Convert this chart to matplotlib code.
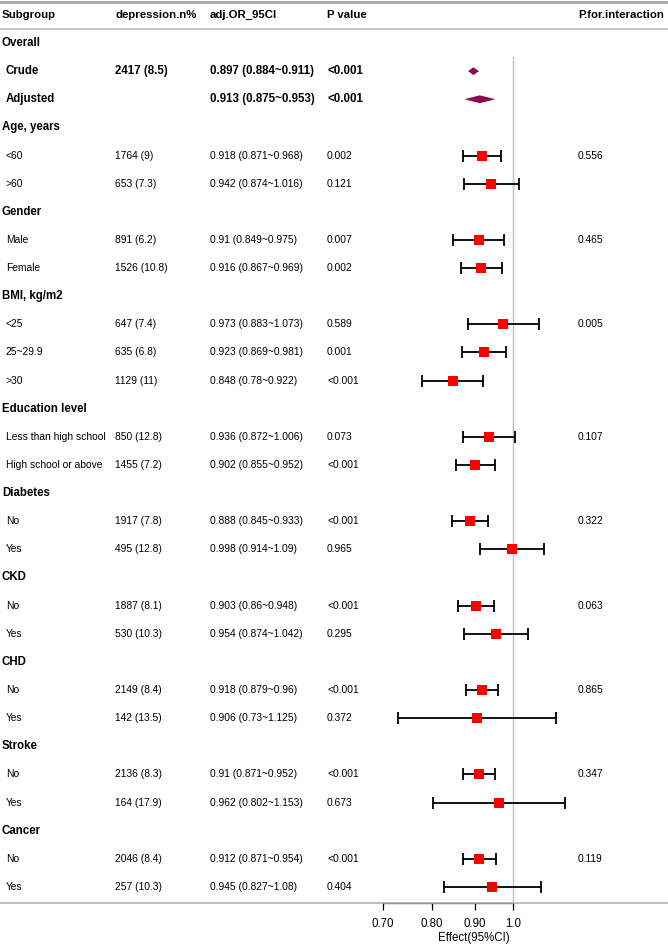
"""
亚组分析森林图 (depression vs adj.OR)
"""

import numpy as np
import matplotlib
matplotlib.use("Agg")
import matplotlib.pyplot as plt
from matplotlib import transforms
from matplotlib.patches import Polygon
from matplotlib.lines import Line2D
from matplotlib.ticker import NullLocator

plt.rcParams['font.family'] = ['Liberation Sans', 'DejaVu Sans']

# 数据
columns = ["Subgroup", "depression.n%", "adj.OR_95CI", "P value", "P.for.interaction"]
group_headers = ["Overall", "Age, years", "Gender", "BMI, kg/m2", "Education level",
                 "Diabetes", "CKD", "CHD", "Stroke", "Cancer"]
summary_rows = ["Crude", "Adjusted"]

labels = ["Overall", "Crude", "Adjusted",
          "Age, years", "<60", ">60",
          "Gender", "Male", "Female",
          "BMI, kg/m2", "<25", "25~29.9", ">30",
          "Education level", "Less than high school", "High school or above",
          "Diabetes", "No", "Yes",
          "CKD", "No", "Yes",
          "CHD", "No", "Yes",
          "Stroke", "No", "Yes",
          "Cancer", "No", "Yes"]
cases = ["", "2417 (8.5)", "",
         "", "1764 (9)", "653 (7.3)",
         "", "891 (6.2)", "1526 (10.8)",
         "", "647 (7.4)", "635 (6.8)", "1129 (11)",
         "", "850 (12.8)", "1455 (7.2)",
         "", "1917 (7.8)", "495 (12.8)",
         "", "1887 (8.1)", "530 (10.3)",
         "", "2149 (8.4)", "142 (13.5)",
         "", "2136 (8.3)", "164 (17.9)",
         "", "2046 (8.4)", "257 (10.3)"]
nan = np.nan
est = [nan, 0.897, 0.913,
       nan, 0.918, 0.942,
       nan, 0.91, 0.916,
       nan, 0.973, 0.923, 0.848,
       nan, 0.936, 0.902,
       nan, 0.888, 0.998,
       nan, 0.903, 0.954,
       nan, 0.918, 0.906,
       nan, 0.91, 0.962,
       nan, 0.912, 0.945]
lower = [nan, 0.884, 0.875,
         nan, 0.871, 0.874,
         nan, 0.849, 0.867,
         nan, 0.883, 0.869, 0.78,
         nan, 0.872, 0.855,
         nan, 0.845, 0.914,
         nan, 0.86, 0.874,
         nan, 0.879, 0.73,
         nan, 0.871, 0.802,
         nan, 0.871, 0.827]
upper = [nan, 0.911, 0.953,
         nan, 0.968, 1.016,
         nan, 0.975, 0.969,
         nan, 1.073, 0.981, 0.922,
         nan, 1.006, 0.952,
         nan, 0.933, 1.09,
         nan, 0.948, 1.042,
         nan, 0.96, 1.125,
         nan, 0.952, 1.153,
         nan, 0.954, 1.08]
p_value = ["", "<0.001", "<0.001",
           "", "0.002", "0.121",
           "", "0.007", "0.002",
           "", "0.589", "0.001", "<0.001",
           "", "0.073", "<0.001",
           "", "<0.001", "0.965",
           "", "<0.001", "0.295",
           "", "<0.001", "0.372",
           "", "<0.001", "0.673",
           "", "<0.001", "0.404"]
p_inter = ["", "", "",
           "", "0.556", "",
           "", "0.465", "",
           "", "0.005", "", "",
           "", "0.107", "",
           "", "0.322", "",
           "", "0.063", "",
           "", "0.865", "",
           "", "0.347", "",
           "", "0.119", ""]
xticks = [0.70, 0.80, 0.90, 1.0]
xtick_labels = ["0.70", "0.80", "0.90", "1.0"]

# 版式 (像素)
W, H = 668, 944
row0_px, row_step = 43.0, 28.13
axis_px = 903
x_one_px, px_per_log = 513.0, 364.5

fig = plt.figure(figsize=(W / 100, H / 100), dpi=100)

# 森林图坐标轴: x 为对数刻度
left_px = x_one_px + px_per_log * np.log(0.7)
ax = fig.add_axes([left_px / W, (H - axis_px) / H, (W - left_px) / W, axis_px / H])
ax.set_xscale('log')
ax.set_xlim(0.7, np.exp((W - x_one_px) / px_per_log))
ax.set_ylim((axis_px - row0_px) / row_step, -row0_px / row_step)
ax.patch.set_alpha(0)
for s in ['top', 'right', 'left']:
    ax.spines[s].set_visible(False)
ax.spines['bottom'].set_bounds(0.7, 1.0)
ax.spines['bottom'].set_linewidth(0.9)
ax.spines['bottom'].set_zorder(5)
ax.set_yticks([])
ax.set_xticks(xticks)
ax.set_xticklabels(xtick_labels, fontsize=8.3)
ax.xaxis.set_minor_locator(NullLocator())
ax.tick_params(axis='x', length=5, width=0.9, pad=6)

tr = transforms.blended_transform_factory(fig.transFigure, ax.transData)

# 表格横线
bottom_y = ax.get_ylim()[0]
for y_row, lw, col in [(-1.475, 2.0, '#a8a8a8'), (-0.5, 1.2, '#bdbdbd'), (bottom_y, 1.2, '#b0b0b0')]:
    fig.add_artist(Line2D([0, 1], [y_row, y_row], transform=tr, color=col, lw=lw, zorder=1))

# 参考线
ax.plot([1.0, 1.0], [0.5, bottom_y], color='#bebebe', lw=1.0, zorder=1)

# 列标题
col_x = [2, 115, 210, 327, 578]
for cx, name in zip(col_x, columns):
    ax.text(cx / W, -1.0, name, transform=tr, fontsize=8.2, fontweight='bold', va='center')

# 表格内容
rows = np.arange(len(labels))
for i, lab in enumerate(labels):
    if lab in group_headers and cases[i] == "" and p_value[i] == "":
        ax.text(2 / W, i, lab, transform=tr, fontsize=8.3, fontweight='bold', va='center')
        continue
    summ = lab in summary_rows
    or_txt = f"{est[i]} ({lower[i]}~{upper[i]})"
    for cx, txt in zip(col_x, [lab, cases[i], or_txt, p_value[i], p_inter[i]]):
        x0 = 6 if cx == 2 else cx
        ax.text(x0 / W, i, txt, transform=tr, fontsize=8.3 if summ else 7.35,
                fontweight='bold' if summ else 'normal', va='center')

# 图形: 汇总行为菱形, 亚组为方块+误差线
est_a, lo_a, hi_a = np.array(est), np.array(lower), np.array(upper)
is_summary = np.array([lab in summary_rows for lab in labels])
sub = ~np.isnan(est_a) & ~is_summary

ax.errorbar(est_a[sub], rows[sub], xerr=[est_a[sub] - lo_a[sub], hi_a[sub] - est_a[sub]],
            fmt='none', ecolor='black', elinewidth=1.3, capsize=4.2, capthick=1.3, zorder=3)
ax.plot(est_a[sub], rows[sub], 's', color='#ff0000', markersize=7.2, markeredgewidth=0, zorder=4)

half_h = 0.14
for i in rows[is_summary]:
    ax.add_patch(Polygon([(lo_a[i], i), (est_a[i], i - half_h), (hi_a[i], i), (est_a[i], i + half_h)],
                         closed=True, facecolor='#8b0a50', edgecolor='none', zorder=4))

fig.text(474 / W, 1 - 938 / H, "Effect(95%CI)", fontsize=8.3, ha='center', va='center')

plt.savefig('out.png', dpi=100)
